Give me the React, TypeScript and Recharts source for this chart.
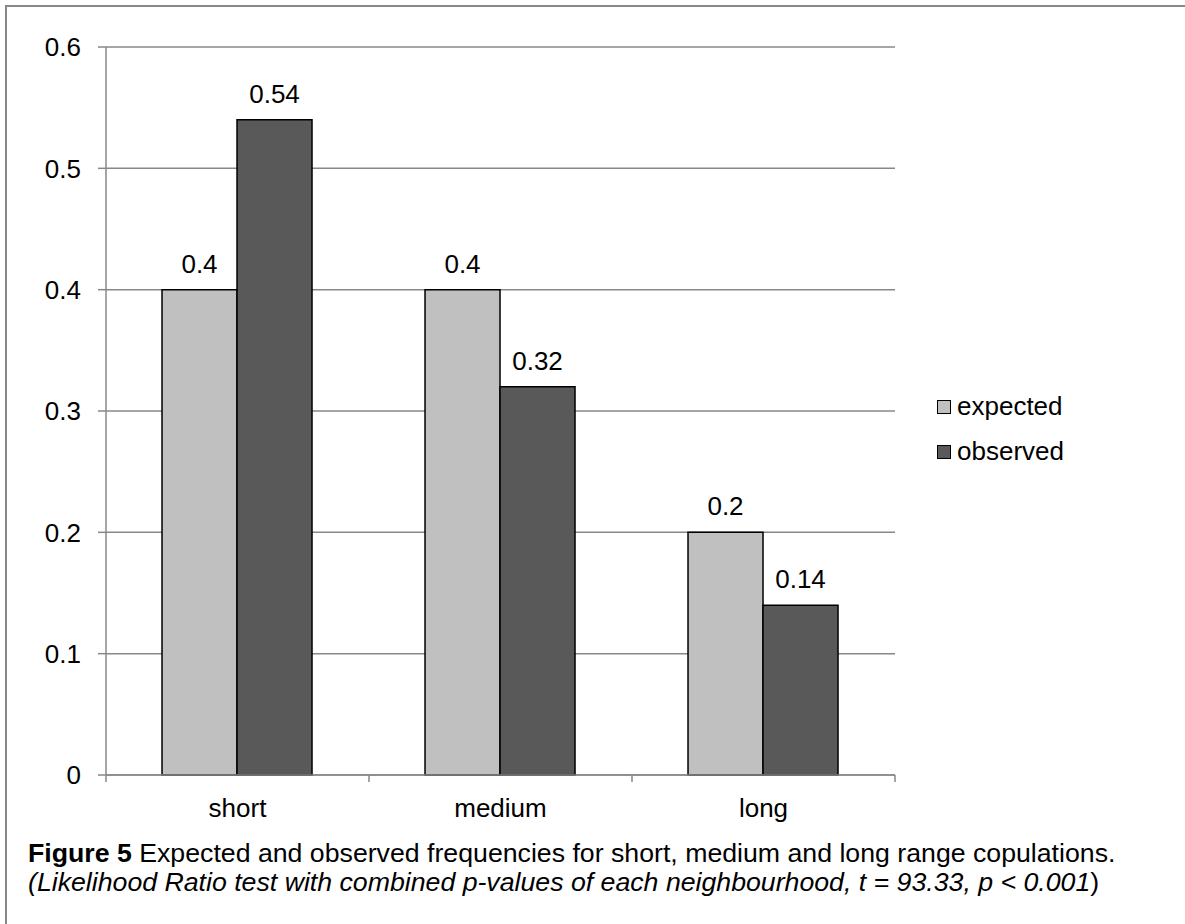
import React from 'react';
import { BarChart, Bar, XAxis, YAxis, CartesianGrid, LabelList } from 'recharts';

const categories = ['short', 'medium', 'long'];
const expected = [0.4, 0.4, 0.2];
const observed = [0.54, 0.32, 0.14];
const yTicks = [0, 0.1, 0.2, 0.3, 0.4, 0.5, 0.6];
const seriesNames = ['expected', 'observed'];
const seriesColors = ['#C0C0C0', '#595959'];

const data = categories.map((c, i) => ({ name: c, expected: expected[i], observed: observed[i] }));

const FONT = "'Liberation Sans', Arial, sans-serif";
const FS = 26;

const CatTick = (props: any) => {
  const { x, y, payload, index, visibleTicksCount, width } = props;
  const off = payload && payload.offset ? payload.offset : (width / visibleTicksCount) / 2;
  return (
    <g>
      <line x1={x - off} x2={x - off} y1={y} y2={y + 7} stroke="#888" strokeWidth={1.5} />
      {index === visibleTicksCount - 1 && (
        <line x1={x + off} x2={x + off} y1={y} y2={y + 7} stroke="#888" strokeWidth={1.5} />
      )}
      <text x={x} y={y + 42} textAnchor="middle" fill="#000" fontSize={FS} fontFamily={FONT}>
        {payload.value}
      </text>
    </g>
  );
};

const LegendBox = () => (
  <div style={{ position: 'absolute', left: 937, top: 384, fontFamily: FONT, fontSize: FS, color: '#000' }}>
    {seriesNames.map((n, i) => (
      <div key={n} style={{ display: 'flex', alignItems: 'center', height: 45 }}>
        <span
          style={{
            display: 'inline-block',
            width: 12,
            height: 12,
            background: seriesColors[i],
            border: '1px solid #000',
            marginRight: 6,
          }}
        />
        <span>{n}</span>
      </div>
    ))}
  </div>
);

const captionStyle: React.CSSProperties = {
  position: 'absolute',
  left: 28,
  fontSize: 26.7,
  lineHeight: '29px',
  height: 29,
  color: '#000',
  fontFamily: FONT,
  whiteSpace: 'nowrap',
};

export default function App() {
  return (
    <div style={{ position: 'relative', width: 1185, height: 924, background: '#fff', fontFamily: FONT, overflow: 'hidden' }}>
      <style>{'body{margin:0;}'}</style>
      <div
        style={{
          position: 'absolute',
          left: 5,
          top: 5,
          right: 0,
          bottom: 0,
          borderTop: '2px solid #888',
          borderLeft: '2px solid #888',
        }}
      />
      <div style={{ position: 'absolute', left: 0, top: 0 }}>
        <BarChart
          width={1185}
          height={840}
          data={data}
          margin={{ top: 47, right: 290, left: 0, bottom: 15 }}
          barCategoryGap="21.3%"
          barGap={0}
        >
          <CartesianGrid vertical={false} stroke="#888" strokeWidth={1.5} />
          <XAxis
            dataKey="name"
            height={50}
            axisLine={{ stroke: '#888', strokeWidth: 1.5 }}
            tickLine={false}
            tickSize={0}
            tickMargin={0}
            tick={<CatTick />}
            interval={0}
          />
          <YAxis
            width={106}
            domain={[0, 0.6]}
            ticks={yTicks}
            interval={0}
            axisLine={{ stroke: '#888', strokeWidth: 1.5 }}
            tickLine={{ stroke: '#888', strokeWidth: 1.5 }}
            tickSize={8}
            tickMargin={17}
            tick={{ fill: '#000', fontSize: FS, fontFamily: FONT }}
          />
          <Bar dataKey="expected" fill={seriesColors[0]} stroke="#000" strokeWidth={1.5} isAnimationActive={false}>
            <LabelList dataKey="expected" position="top" offset={17} fill="#000" fontSize={FS} fontFamily={FONT} />
          </Bar>
          <Bar dataKey="observed" fill={seriesColors[1]} stroke="#000" strokeWidth={1.5} isAnimationActive={false}>
            <LabelList dataKey="observed" position="top" offset={17} fill="#000" fontSize={FS} fontFamily={FONT} />
          </Bar>
        </BarChart>
      </div>
      <LegendBox />
      <div style={{ ...captionStyle, top: 839 }}>
        <b>Figure 5</b> Expected and observed frequencies for short, medium and long range copulations.
      </div>
      <div style={{ ...captionStyle, top: 868 }}>
        <i>(Likelihood Ratio test with combined p-values of each neighbourhood, t = 93.33, p &lt; 0.001</i>)
      </div>
    </div>
  );
}
